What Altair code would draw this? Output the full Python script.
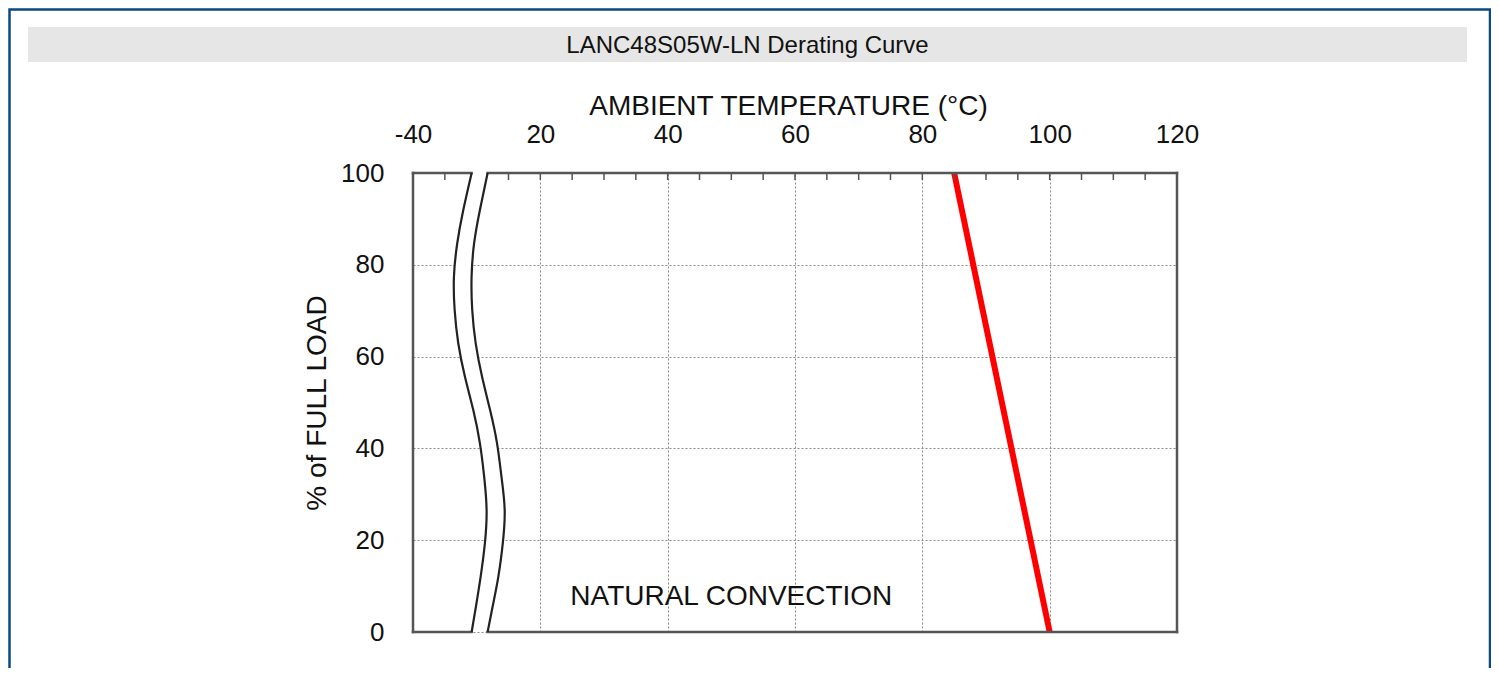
import altair as alt
import pandas as pd

# ---------------- data ----------------
chart_title = "LANC48S05W-LN Derating Curve"
x_title = "AMBIENT TEMPERATURE (°C)"
y_title = "% of FULL LOAD"
note_text = "NATURAL CONVECTION"

# x positions are axis positions (the -40 region is drawn compressed behind the break)
x_tick_values = [0, 20, 40, 60, 80, 100, 120]
x_tick_labels = ["-40", "20", "40", "60", "80", "100", "120"]
y_tick_values = [0, 20, 40, 60, 80, 100]
minor_tick_values = [5, 15, 20, 25, 30, 35, 40, 45, 50, 55, 60, 65, 70, 75,
                     80, 85, 90, 95, 100, 105, 110, 115]

derate_temp = [85, 100]
derate_load = [100, 0]

# axis-break (wavy double line)
break_load = [100, 91.9, 84.7, 77.4, 70.2, 62.9, 55.6, 48.4, 41.1, 33.8, 26.6, 19.3, 12.0, 5.5, 0]
break_left = [9.21, 7.89, 6.95, 6.43, 6.54, 7.11, 8.16, 9.46, 10.51, 11.18, 11.56, 11.29, 10.62, 9.88, 9.21]
break_right = [11.72, 10.5, 9.6, 9.2, 9.3, 9.85, 10.85, 12.1, 13.2, 13.9, 14.4, 14.1, 13.4, 12.5, 11.72]

note_x = [50]
note_y = [7.6]

FONT = "Liberation Sans"
FRAME = "#555555"

# ---------------- tables ----------------
line_df = pd.DataFrame({"x": derate_temp, "y": derate_load})
band_df = pd.DataFrame({"y": break_load, "x": break_left, "x2": break_right})
curve_df = pd.concat([
    pd.DataFrame({"y": break_load, "x": break_left, "side": "left"}),
    pd.DataFrame({"y": break_load, "x": break_right, "side": "right"}),
])
frame_df = pd.DataFrame({
    "x": [0, break_right[0], 0, break_right[-1], 0, 120],
    "x2": [break_left[0], 120, break_left[-1], 120, 0, 120],
    "y": [100, 100, 0, 0, 0, 0],
    "y2": [100, 100, 0, 0, 100, 100],
})
tick_df = pd.DataFrame({"x": minor_tick_values})
note_df = pd.DataFrame({"x": note_x, "y": note_y, "label": [note_text]})
title_df = pd.DataFrame({"label": [chart_title]})

label_expr = "''"
for v, l in reversed(list(zip(x_tick_values, x_tick_labels))):
    label_expr = f"datum.value == {v} ? '{l}' : ({label_expr})"

xs = alt.Scale(domain=[0, 120], nice=False, zero=False)
ys = alt.Scale(domain=[0, 100], nice=False, zero=False)

x_axis = alt.Axis(
    orient="top", values=x_tick_values, labelExpr=label_expr, labelFlush=False,
    ticks=False, tickSize=0, domain=False, labelPadding=26,
    labelFont=FONT, labelFontSize=26, labelColor="#111111",
    grid=True, gridDash=[2, 2], gridColor="#8a8a8a", gridWidth=1,
    title=x_title, titleFont=FONT, titleFontSize=28, titleFontWeight="normal",
    titleColor="#111111", titleX=375, titleY=-67, titleAlign="center",
    titleBaseline="middle", titleAngle=0,
)
y_axis = alt.Axis(
    orient="left", values=y_tick_values, ticks=False, tickSize=0, domain=False,
    labelPadding=29, labelFont=FONT, labelFontSize=26, labelColor="#111111",
    labelBaseline="middle",
    grid=True, gridDash=[2, 2], gridColor="#8a8a8a", gridWidth=1,
    title=y_title, titleFont=FONT, titleFontSize=28, titleFontWeight="normal",
    titleColor="#111111", titleX=-96, titleY=229.5, titleAlign="center",
    titleBaseline="middle", titleAngle=270,
)

X = lambda f="x:Q": alt.X(f, scale=xs, axis=x_axis)
Y = lambda f="y:Q": alt.Y(f, scale=ys, axis=y_axis)

# ---------------- layers ----------------
title_bar = alt.Chart(title_df).mark_rect(color="#e6e6e6").encode(
    x=alt.value(-385), x2=alt.value(1054), y=alt.value(-146), y2=alt.value(-111)
)
title_text = alt.Chart(title_df).mark_text(
    font=FONT, fontSize=24, color="#111111", align="center", baseline="alphabetic"
).encode(text="label:N", x=alt.value(334.5), y=alt.value(-120))

border = alt.Chart(title_df).mark_rect(
    filled=False, stroke="#0a4a80", strokeWidth=2.5, fillOpacity=0
).encode(x=alt.value(-403.5), x2=alt.value(1077), y=alt.value(-163.5), y2=alt.value(700))

band = alt.Chart(band_df).mark_area(
    orient="horizontal", interpolate="natural", color="white"
).encode(y=Y(), x=X(), x2="x2:Q")

derate = alt.Chart(line_df).mark_line(
    color="#ff0000", strokeWidth=6, strokeCap="butt"
).encode(x=X(), y=Y())

frame = alt.Chart(frame_df).mark_rule(
    color=FRAME, strokeWidth=2.5, strokeCap="square"
).encode(x=X(), x2="x2:Q", y=Y(), y2="y2:Q")

curves = alt.Chart(curve_df).mark_line(
    color="#222222", strokeWidth=2.2, interpolate="natural"
).encode(x=X(), y=Y(), detail="side:N", order=alt.Order("y:Q"))

ticks = alt.Chart(tick_df).mark_rule(color=FRAME, strokeWidth=1.5).encode(
    x=X(), y=alt.value(0), y2=alt.value(7)
)

note = alt.Chart(note_df).mark_text(
    font=FONT, fontSize=28, color="#111111", align="center", baseline="middle"
).encode(x=X(), y=Y(), text="label:N")

chart = alt.layer(
    title_bar, title_text, border, band, derate, frame, curves, ticks, note
).properties(
    width=764, height=459,
    autosize=alt.AutoSizeParams(type="none"),
    padding={"left": 405, "top": 165, "right": 314, "bottom": 36},
    background="white",
).configure_view(stroke="transparent")

chart.save("out.html", embed_options={"renderer": "svg", "actions": False})
